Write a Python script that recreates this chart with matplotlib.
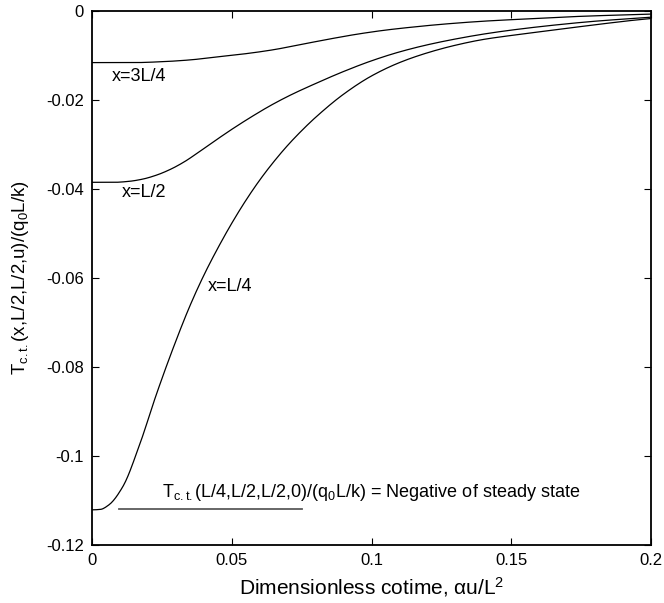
import matplotlib
matplotlib.use("Agg")
import matplotlib.pyplot as plt
import numpy as np

plt.rcParams['font.family'] = ['Liberation Sans', 'DejaVu Sans']
plt.rcParams['mathtext.fontset'] = 'custom'
plt.rcParams['mathtext.rm'] = 'Liberation Sans'
plt.rcParams['mathtext.it'] = 'Liberation Sans'

# x = 3L/4
u_34 = [0.0, 0.015, 0.025, 0.035, 0.045, 0.055, 0.065, 0.075, 0.085, 0.095, 0.105, 0.115, 0.125, 0.140, 0.155, 0.175, 0.200]
T_34 = [-0.0116, -0.0116, -0.0114, -0.0110, -0.0103, -0.0096, -0.0087, -0.0075, -0.0063, -0.0052, -0.0043, -0.0036, -0.0030, -0.0023, -0.0018, -0.0012, -0.0007]

# x = L/2
u_12 = [0.0, 0.008, 0.013, 0.018, 0.023, 0.028, 0.033, 0.038, 0.043, 0.050, 0.057, 0.064, 0.071, 0.080, 0.090, 0.100, 0.110, 0.120, 0.130, 0.140, 0.150, 0.165, 0.180, 0.200]
T_12 = [-0.0385, -0.0385, -0.0383, -0.0378, -0.0369, -0.0356, -0.0339, -0.0318, -0.0296, -0.0266, -0.0238, -0.0212, -0.0189, -0.0163, -0.0136, -0.0112, -0.0092, -0.0076, -0.0063, -0.0052, -0.0043, -0.0032, -0.0023, -0.0014]

# x = L/4
u_14 = [0.0, 0.003, 0.006, 0.011, 0.017, 0.023, 0.029, 0.035, 0.040, 0.045, 0.050, 0.055, 0.060, 0.065, 0.070, 0.075, 0.080, 0.090, 0.100, 0.110, 0.120, 0.130, 0.140, 0.150, 0.165, 0.180, 0.195, 0.200]
T_14 = [-0.1121, -0.1120, -0.1110, -0.1069, -0.0975, -0.0862, -0.0758, -0.0663, -0.0594, -0.0533, -0.0477, -0.0426, -0.0380, -0.0339, -0.0302, -0.0269, -0.0239, -0.0187, -0.0146, -0.0116, -0.0094, -0.0077, -0.0064, -0.0055, -0.0043, -0.0031, -0.0020, -0.0017]

# steady state reference line
ss_u = [0.0097, 0.075]
ss_T = [-0.112, -0.112]

xticks = [0, 0.05, 0.1, 0.15, 0.2]
xticklabels = ["0", "0.05", "0.1", "0.15", "0.2"]
yticks = [0, -0.02, -0.04, -0.06, -0.08, -0.1, -0.12]
yticklabels = ["0", "-0.02", "-0.04", "-0.06", "-0.08", "-0.1", "-0.12"]

fig = plt.figure(figsize=(6.64, 6.03), dpi=100)
ax = fig.add_axes([0.1386, 0.0962, 0.9804 - 0.1386, 0.9818 - 0.0962])


def smooth(u, T):
    u = np.asarray(u, float)
    T = np.asarray(T, float)
    uu = np.linspace(u[0], u[-1], 500)
    h = np.diff(u)
    d = np.diff(T) / h
    m = np.zeros_like(T)
    for i in range(1, len(T) - 1):
        if d[i - 1] * d[i] <= 0:
            m[i] = 0
        else:
            w1 = 2 * h[i] + h[i - 1]
            w2 = h[i] + 2 * h[i - 1]
            m[i] = (w1 + w2) / (w1 / d[i - 1] + w2 / d[i])
    m[0] = 0.0
    m[-1] = d[-1]
    idx = np.clip(np.searchsorted(u, uu) - 1, 0, len(u) - 2)
    t = (uu - u[idx]) / h[idx]
    h00 = 2 * t**3 - 3 * t**2 + 1
    h10 = t**3 - 2 * t**2 + t
    h01 = -2 * t**3 + 3 * t**2
    h11 = t**3 - t**2
    TT = h00 * T[idx] + h10 * h[idx] * m[idx] + h01 * T[idx + 1] + h11 * h[idx] * m[idx + 1]
    return uu, TT


for u, T in [(u_34, T_34), (u_12, T_12), (u_14, T_14)]:
    uu, TT = smooth(u, T)
    ax.plot(uu, TT, color='black', lw=0.9)

ax.plot(ss_u, ss_T, color='#5a5a5a', lw=1.3)

fs = 13
ax.text(0.0072, -0.0148, "x=3L/4", fontsize=fs, va='center', ha='left')
ax.text(0.0107, -0.0409, "x=L/2", fontsize=fs, va='center', ha='left')
ax.text(0.0416, -0.0620, "x=L/4", fontsize=fs, va='center', ha='left')
ax.text(0.025, -0.1083, r"T$_{\rm c.t.}$(L/4,L/2,L/2,0)/(q$_{\rm 0}$L/k) = Negative of steady state",
        fontsize=fs, va='center', ha='left')

ax.set_xlim(0, 0.2)
ax.set_ylim(-0.12, 0)
ax.set_xticks(xticks)
ax.set_xticklabels(xticklabels)
ax.set_yticks(yticks)
ax.set_yticklabels(yticklabels)
ax.tick_params(direction='in', top=True, right=True, labelsize=12, length=5, width=0.8, pad=6)
for s in ax.spines.values():
    s.set_linewidth(1.3)

ax.set_xlabel(r"Dimensionless cotime, $\alpha$u/L$^{\rm 2}$", fontsize=15, labelpad=5)
ax.set_ylabel(r"T$_{\rm c.t.}$(x,L/2,L/2,u)/(q$_{\rm 0}$L/k)", fontsize=13.4, labelpad=11)

fig.savefig("out.png", dpi=100)
